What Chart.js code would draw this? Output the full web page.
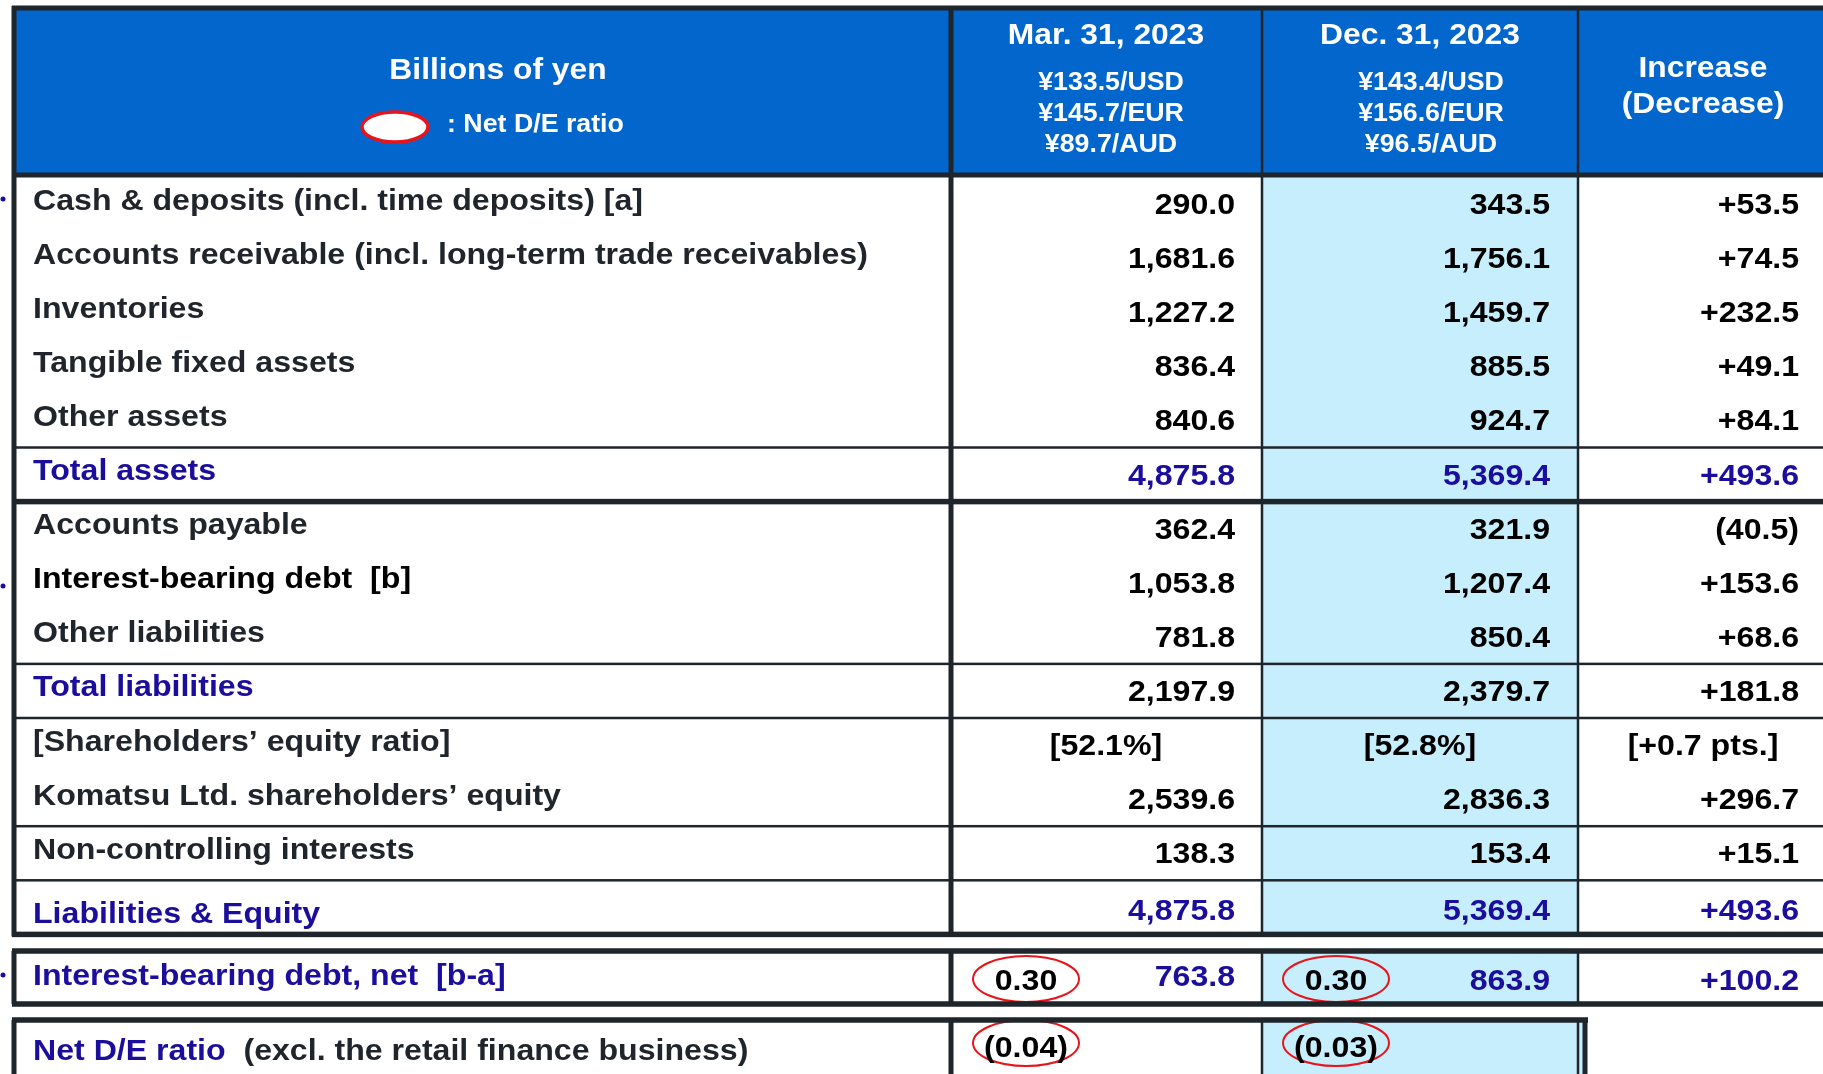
<!DOCTYPE html>
<html>
<head>
<meta charset="utf-8">
<script src="https://cdn.jsdelivr.net/npm/chart.js@4"></script>
<style>
  html, body { margin: 0; padding: 0; background: #fff; overflow: hidden; }
  canvas { display: block; }
</style>
</head>
<body>
<canvas id="sheet" width="1823" height="1074"></canvas>
<script>
// Balance sheet values (billions of yen)
var rowLabels = [
  'Cash & deposits (incl. time deposits) [a]',
  'Accounts receivable (incl. long-term trade receivables)',
  'Inventories',
  'Tangible fixed assets',
  'Other assets',
  'Total assets',
  'Accounts payable',
  'Interest-bearing debt  [b]',
  'Other liabilities',
  'Total liabilities',
  '[Shareholders\u2019 equity ratio]',
  'Komatsu Ltd. shareholders\u2019 equity',
  'Non-controlling interests',
  'Liabilities & Equity'
];
var mar2023 = [290.0, 1681.6, 1227.2, 836.4, 840.6, 4875.8, 362.4, 1053.8, 781.8, 2197.9, 52.1, 2539.6, 138.3, 4875.8];
var dec2023 = [343.5, 1756.1, 1459.7, 885.5, 924.7, 5369.4, 321.9, 1207.4, 850.4, 2379.7, 52.8, 2836.3, 153.4, 5369.4];
var change  = [53.5, 74.5, 232.5, 49.1, 84.1, 493.6, -40.5, 153.6, 68.6, 181.8, 0.7, 296.7, 15.1, 493.6];

var netDebtLabel = 'Interest-bearing debt, net  [b-a]';
var netDebt = [763.8, 863.9];
var netDebtChange = 100.2;
var netDebtEquity = [0.30, 0.30];     // circled, on the net debt row
var netDERatioLabel = ['Net D/E ratio', '  (excl. the retail finance business)'];
var netDERatio = [-0.04, -0.03];      // excl. retail finance

var headTitle = 'Billions of yen';
var legendText = ': Net D/E ratio';
var headDates = ['Mar. 31, 2023', 'Dec. 31, 2023'];
var fxMar = ['\u00a5133.5/USD', '\u00a5145.7/EUR', '\u00a589.7/AUD'];
var fxDec = ['\u00a5143.4/USD', '\u00a5156.6/EUR', '\u00a596.5/AUD'];
var headChange = ['Increase', '(Decrease)'];

var ratioRow = 10;
var blueLabelRows = [5, 9, 13];
var blueValueRows = [5, 13];

// layout
var colEdge = [14, 951, 1262, 1578, 1832];
var bodyTop = 177, rowH = 54.1;
var box2 = [951, 1004], box3 = [1020, 1090];
var numRight = [1235, 1550, 1799];

var BLUE = '#1B0E9C', INK = '#1F252B', LINE = '#1E252B';
var HEAD = '#0366CC', LIGHT = '#C7EEFC', RED = '#E8141B';
var FACE = '"Liberation Sans", Arial, sans-serif';

function rowTop(i) { return bodyTop + i * rowH; }
function fmt(v) {
  return v.toLocaleString('en-US', { minimumFractionDigits: 1, maximumFractionDigits: 1 });
}
function fmtChange(v) { return v < 0 ? '(' + fmt(-v) + ')' : '+' + fmt(v); }
function fmtRatio(v) { return v < 0 ? '(' + (-v).toFixed(2) + ')' : v.toFixed(2); }

var tablePlugin = {
  id: 'table',
  afterDraw: function (chart) {
    var ctx = chart.ctx;
    var X = function (v) { return chart.scales.x.getPixelForValue(v); };
    var Y = function (v) { return chart.scales.y.getPixelForValue(v); };

    function rect(x0, y0, x1, y1, c) {
      ctx.fillStyle = c;
      ctx.fillRect(X(x0), Y(y0), X(x1) - X(x0), Y(y1) - Y(y0));
    }
    function hline(y, x0, x1, w) {
      ctx.fillStyle = LINE;
      ctx.fillRect(X(x0), Y(y) - w / 2, X(x1) - X(x0), w);
    }
    function vline(x, y0, y1, w) {
      ctx.fillStyle = LINE;
      ctx.fillRect(X(x) - w / 2, Y(y0), w, Y(y1) - Y(y0));
    }
    function text(s, x, y, align, size, color, stretch) {
      ctx.save();
      ctx.font = 'bold ' + size + 'px ' + FACE;
      ctx.fillStyle = color;
      ctx.textBaseline = 'alphabetic';
      ctx.textAlign = 'left';
      var w = ctx.measureText(s).width * stretch;
      var x0 = align === 'left' ? X(x) : align === 'right' ? X(x) - w : X(x) - w / 2;
      ctx.translate(x0, Y(y));
      ctx.scale(stretch, 1);
      ctx.fillText(s, 0, 0);
      ctx.restore();
      return w;
    }
    function ellipse(cx, cy, rx, ry, lw, fill) {
      ctx.beginPath();
      ctx.ellipse(X(cx), Y(cy), rx, ry, 0, 0, Math.PI * 2);
      if (fill) { ctx.fillStyle = fill; ctx.fill(); }
      ctx.lineWidth = lw;
      ctx.strokeStyle = RED;
      ctx.stroke();
    }

    // fills
    rect(colEdge[0], 8, 1823, 175, HEAD);
    rect(colEdge[2], 175, colEdge[3], rowTop(14), LIGHT);
    rect(colEdge[2], box2[0], colEdge[3], box2[1], LIGHT);
    rect(colEdge[2], box3[0], 1585, 1074, LIGHT);

    // header texts
    var S = 1.06;
    text(headTitle, 498, 79, 'center', 30, '#fff', S);
    ellipse(395, 127, 33, 15, 3.5, '#fff');
    text(legendText, 447, 132, 'left', 25, '#fff', 1.07);
    text(headDates[0], 1106, 43.5, 'center', 30, '#fff', S);
    text(headDates[1], 1420, 43.5, 'center', 30, '#fff', S);
    for (var k = 0; k < 3; k++) {
      text(fxMar[k], 1111, 89.5 + k * 31, 'center', 25, '#fff', 1.07);
      text(fxDec[k], 1431, 89.5 + k * 31, 'center', 25, '#fff', 1.07);
    }
    text(headChange[0], 1703, 77, 'center', 30, '#fff', S);
    text(headChange[1], 1703, 113, 'center', 30, '#fff', S);

    // body rows
    var B = 1.07;
    for (var i = 0; i < rowLabels.length; i++) {
      var top = rowTop(i);
      var last = i === rowLabels.length - 1;
      var lc = blueLabelRows.indexOf(i) >= 0 ? BLUE : (i === 7 ? '#000' : INK);
      var vc = blueValueRows.indexOf(i) >= 0 ? BLUE : '#000';
      text(rowLabels[i], 33, top + (last ? 42.5 : 32.5), 'left', 30, lc, B);
      var by = top + (last ? 40 : 37);
      if (i === ratioRow) {
        text('[' + fmt(mar2023[i]) + '%]', 1106, by, 'center', 30, vc, B);
        text('[' + fmt(dec2023[i]) + '%]', 1420, by, 'center', 30, vc, B);
        text('[+' + fmt(change[i]) + ' pts.]', 1703, by, 'center', 30, vc, B);
      } else {
        text(fmt(mar2023[i]), numRight[0], by, 'right', 30, vc, B);
        text(fmt(dec2023[i]), numRight[1], by, 'right', 30, vc, B);
        text(fmtChange(change[i]), numRight[2], by, 'right', 30, vc, B);
      }
    }

    // net debt row
    text(netDebtLabel, 33, 985, 'left', 30, BLUE, B);
    text(fmt(netDebt[0]), numRight[0], 986, 'right', 30, BLUE, B);
    text(fmt(netDebt[1]), numRight[1], 990, 'right', 30, BLUE, B);
    text(fmtChange(netDebtChange), numRight[2], 990, 'right', 30, BLUE, B);
    var circX = [1026, 1336];
    for (var j = 0; j < 2; j++) {
      ellipse(circX[j], 979, 53, 23, 2);
      text(fmtRatio(netDebtEquity[j]), circX[j], 990, 'center', 30, '#000', B);
    }

    // net D/E row
    var w0 = text(netDERatioLabel[0], 33, 1060, 'left', 30, BLUE, B);
    text(netDERatioLabel[1], 33 + w0, 1060, 'left', 30, INK, B);
    for (var m = 0; m < 2; m++) {
      ellipse(circX[m], 1043, 53, 23, 2);
      text(fmtRatio(netDERatio[m]), circX[m], 1057, 'center', 30, '#000', B);
    }

    // grid lines
    hline(8, 12, 1823, 5);
    hline(175, 12, 1823, 5);
    [[5, 2.5], [6, 5.5], [9, 2.5], [10, 2.5], [12, 2.5], [13, 2.5], [14, 5.5]].forEach(function (r) {
      hline(rowTop(r[0]), 12, 1823, r[1]);
    });
    var vw = [5, 5, 2.5, 2.5];
    for (var c = 0; c < 4; c++) {
      vline(colEdge[c], 6, rowTop(14) + 2, vw[c]);
      vline(colEdge[c], box2[0], box2[1], vw[c]);
      vline(colEdge[c], box3[0], 1074, vw[c]);
    }
    hline(box2[0], 12, 1823, 5.5);
    hline(box2[1], 12, 1823, 5.5);
    hline(box3[0], 12, 1588, 5.5);
    vline(1585, box3[0], 1074, 5);

    // stray arrow tips at the left edge
    ctx.fillStyle = BLUE;
    [199, 586, 975].forEach(function (y) {
      ctx.beginPath();
      ctx.arc(X(3), Y(y), 2.5, 0, Math.PI * 2);
      ctx.fill();
    });
  }
};

new Chart(document.getElementById('sheet').getContext('2d'), {
  type: 'scatter',
  data: { datasets: [] },
  options: {
    responsive: false,
    animation: false,
    devicePixelRatio: 1,
    events: [],
    layout: { padding: 0 },
    plugins: { legend: { display: false }, tooltip: { enabled: false } },
    scales: {
      x: { type: 'linear', min: 0, max: 1823, display: false },
      y: { type: 'linear', min: 0, max: 1074, reverse: true, display: false }
    }
  },
  plugins: [tablePlugin]
});
</script>
</body>
</html>
